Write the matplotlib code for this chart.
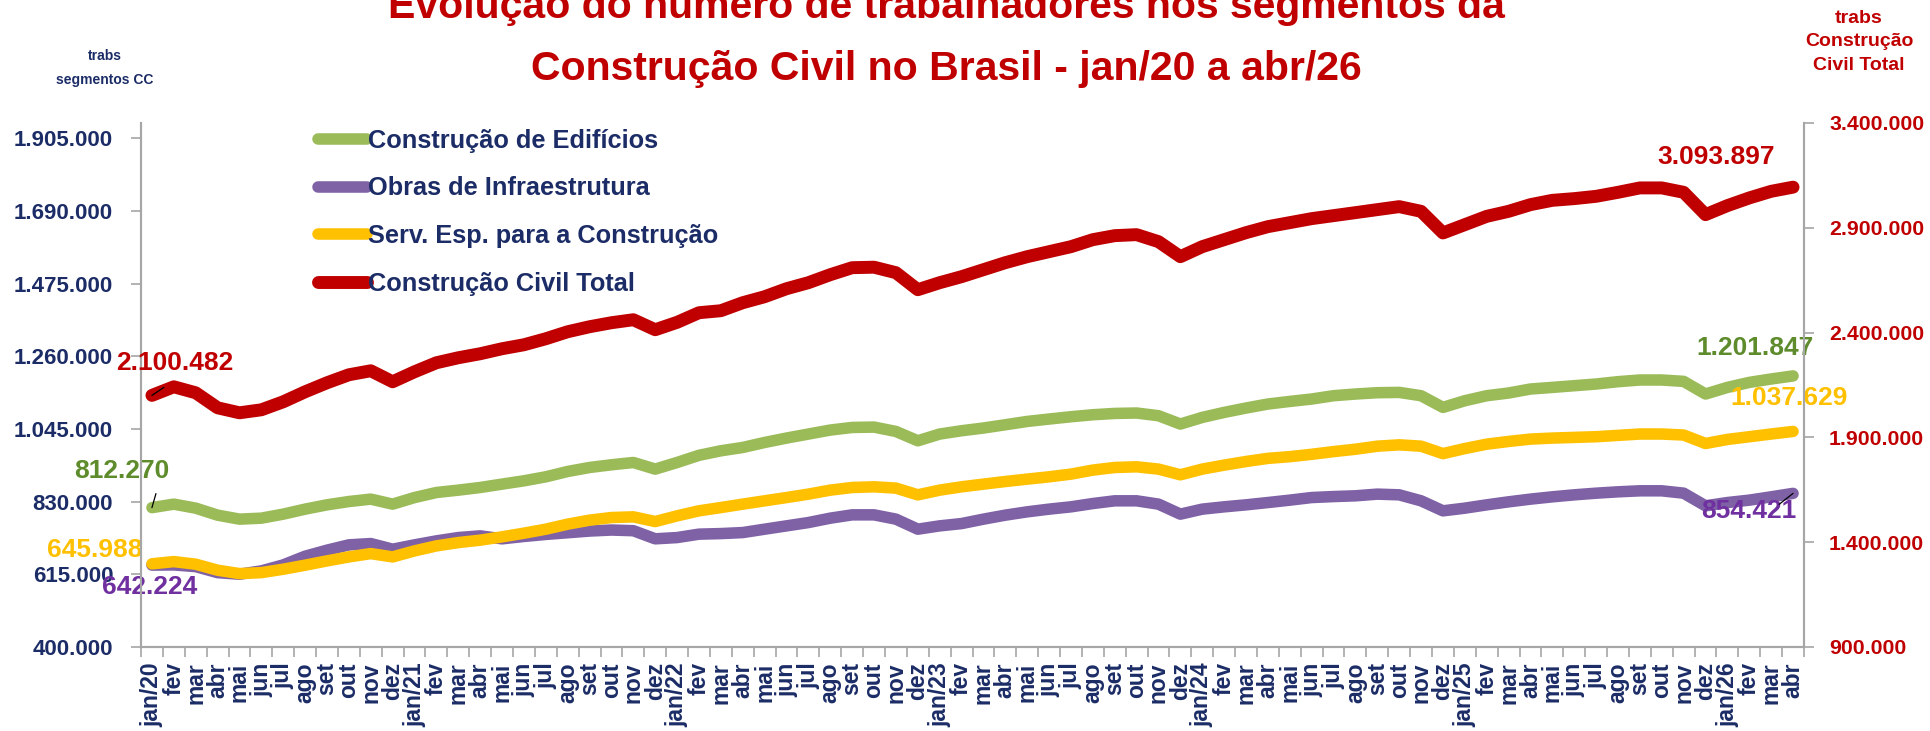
import matplotlib
matplotlib.use("Agg")
import matplotlib.pyplot as plt
from matplotlib import font_manager as fm
from matplotlib.ticker import FixedLocator, FuncFormatter

try:
    fm.findfont(fm.FontProperties(family='Liberation Sans Narrow', weight='bold'), fallback_to_default=False)
    NARROW = True
except Exception:
    NARROW = False

BASE = ['Liberation Sans', 'DejaVu Sans']
NARROW_FAM = (['Liberation Sans Narrow'] + BASE) if NARROW else BASE
K = 1.22 if NARROW else 1.0

plt.rcParams['font.family'] = BASE
plt.rcParams['font.weight'] = 'bold'

MONTHS = ['jan', 'fev', 'mar', 'abr', 'mai', 'jun', 'jul', 'ago', 'set', 'out', 'nov', 'dez']
YEARS = ['20', '21', '22', '23', '24', '25', '26']
labels = []
for y in YEARS:
    for i, m in enumerate(MONTHS):
        labels.append(f"{m}/{y}" if i == 0 else m)
labels = labels[:76]

edificios = [812270, 822600, 810700, 790000, 778200, 781100, 793000, 807800, 820500, 830300, 837400, 822600,
             842100, 857000, 864000, 871800, 881800, 891600, 903400, 919200, 931000, 939000, 945800, 926200,
             945800, 967000, 980400, 990200, 1005000, 1018000, 1029900, 1041700, 1049400, 1050500, 1037600, 1010000,
             1029900, 1039700, 1047700, 1057400, 1067200, 1074300, 1081100, 1087000, 1090900, 1092100, 1084100, 1059500,
             1079100, 1093900, 1106900, 1118700, 1126400, 1133500, 1143300, 1148300, 1152200, 1153100, 1143300, 1108700,
             1128500, 1143300, 1151300, 1163100, 1167900, 1172900, 1177900, 1184800, 1189800, 1189800, 1185700, 1148300,
             1167900, 1182700, 1192800, 1201847]

infra = [642224, 642800, 637800, 620000, 615300, 625100, 642800, 668500, 686400, 702100, 706000, 689300,
         702100, 713900, 723700, 728700, 720000, 727000, 733000, 738000, 743000, 746000, 744000, 720000,
         723700, 733800, 735500, 738500, 748500, 758300, 768100, 781100, 790900, 790900, 778200, 748500,
         758300, 765100, 778200, 790000, 799800, 807800, 814600, 824400, 832400, 832400, 822600, 793000,
         807800, 814600, 820500, 827300, 834400, 842100, 845000, 847200, 852200, 850100, 832400, 802800,
         810700, 820500, 829400, 837400, 844200, 850100, 855000, 859000, 862000, 862000, 855000, 817600,
         827300, 834400, 844200, 854421]

servicos = [645988, 652600, 644900, 627100, 617100, 620000, 630100, 642000, 654700, 666500, 676300, 666500,
            684300, 699100, 708900, 716000, 725800, 736700, 748500, 763400, 775200, 782900, 785000, 771100,
            787900, 802800, 812500, 822600, 832400, 842100, 852200, 864000, 871800, 873800, 870000, 850100,
            864000, 873800, 881800, 889500, 896600, 903400, 911400, 923300, 931000, 933000, 926200, 909400,
            926200, 938000, 948700, 958000, 963000, 970000, 978000, 985000, 994000, 998000, 994000, 972000,
            987000, 1000000, 1008000, 1015000, 1018000, 1020000, 1022000, 1026000, 1030000, 1030000, 1027000, 1002000,
            1014000, 1022000, 1030000, 1037629]

total = [2100482, 2141500, 2112900, 2041200, 2017400, 2031700, 2069900, 2117600, 2160600, 2198800, 2217900, 2165400,
         2213100, 2256100, 2280000, 2299100, 2323000, 2342000, 2370700, 2404100, 2428000, 2447100, 2461400, 2413700,
         2449000, 2494900, 2504400, 2542600, 2571200, 2609400, 2638100, 2676300, 2709700, 2712000, 2685900, 2604700,
         2638100, 2666800, 2700200, 2733600, 2762200, 2786100, 2810000, 2843400, 2862500, 2867300, 2833900, 2762200,
         2810000, 2843400, 2876800, 2905500, 2924600, 2943700, 2958000, 2972300, 2986700, 3001000, 2978600, 2875400,
         2915000, 2954700, 2978600, 3010500, 3031100, 3039200, 3050200, 3069300, 3090300, 3090300, 3069300, 2962800,
         3005800, 3042500, 3074100, 3093897]

series_names = ["Construção de Edifícios", "Obras de Infraestrutura",
                "Serv. Esp. para a Construção", "Construção Civil Total"]

left_ticks = [400000, 615000, 830000, 1045000, 1260000, 1475000, 1690000, 1905000]
right_ticks = [900000, 1400000, 1900000, 2400000, 2900000, 3400000]

NAVY = '#1B2C66'
RED = '#C00000'
C_GREEN = '#9BBB59'
C_PURPLE = '#7F61A6'
C_YELLOW = '#FFC000'
L_GREEN = '#5E8C2C'
L_PURPLE = '#7030A0'
GRAY = '#A6A6A6'


def fmt(v, pos=None):
    return f"{int(round(v)):,}".replace(',', '.')


W, H = 1930, 731
fig = plt.figure(figsize=(W / 100, H / 100), dpi=100)
ax = fig.add_axes([141 / W, 1 - 647 / H, (1804 - 141) / W, (647 - 123) / H])
ax2 = ax.twinx()

x = list(range(len(labels)))
kw = dict(solid_capstyle='round', solid_joinstyle='round')
l1, = ax.plot(x, edificios, color=C_GREEN, lw=8.3, zorder=3, **kw)
l2, = ax.plot(x, infra, color=C_PURPLE, lw=8.3, zorder=2, **kw)
l3, = ax.plot(x, servicos, color=C_YELLOW, lw=8.3, zorder=4, **kw)
l4, = ax2.plot(x, total, color=RED, lw=9.3, zorder=3, **kw)

ax.set_xlim(-0.5, len(labels) - 0.5)
ax.set_ylim(400000, 1950000)
ax2.set_ylim(900000, 3400000)

ax.yaxis.set_major_locator(FixedLocator(left_ticks))
ax.yaxis.set_major_formatter(FuncFormatter(fmt))
ax2.yaxis.set_major_locator(FixedLocator(right_ticks))
ax2.yaxis.set_major_formatter(FuncFormatter(fmt))

ax.set_xticks(x)
ax.set_xticklabels(labels, rotation=90, fontsize=16.5, color=NAVY, fontweight='bold', va='top', ha='center')
ax.set_xticks([i - 0.5 for i in range(len(labels) + 1)], minor=True)
ax.tick_params(axis='x', which='major', length=0, pad=11)
ax.tick_params(axis='x', which='minor', length=7, color=GRAY, width=1.2)
ax.tick_params(axis='y', which='major', length=7, color=GRAY, width=1.2, labelcolor=NAVY, pad=13)
ax2.tick_params(axis='y', which='major', length=7, color=GRAY, width=1.2, labelcolor=RED, pad=11)
for t in ax.get_yticklabels():
    t.set_family(NARROW_FAM); t.set_fontsize(16 * K); t.set_fontweight('bold')
for t in ax2.get_yticklabels():
    t.set_family(NARROW_FAM); t.set_fontsize(15.3 * K); t.set_fontweight('bold')

for a in (ax, ax2):
    a.spines['top'].set_visible(False)
    for s in ('left', 'right', 'bottom'):
        a.spines[s].set_color(GRAY)
        a.spines[s].set_linewidth(1.5)

# titles
fig.text(946 / W, 1 - 18 / H, "Evolução do número de trabalhadores nos segmentos da", family=NARROW_FAM,
         ha='center', va='baseline', fontsize=29.5 * K, color=RED, fontweight='bold')
fig.text(946 / W, 1 - 80 / H, "Construção Civil no Brasil - jan/20 a abr/26", family=NARROW_FAM,
         ha='center', va='baseline', fontsize=29.5 * K, color=RED, fontweight='bold')
fig.text(105 / W, 1 - 68 / H, "trabs\nsegmentos CC", ha='center', va='center', family=NARROW_FAM,
         fontsize=10 * K, color=NAVY, fontweight='bold', linespacing=1.85)
fig.text(1859 / W, 1 - 42 / H, "trabs\nConstrução\nCivil Total", ha='center', va='center', family=NARROW_FAM,
         fontsize=14 * K, color=RED, fontweight='bold', linespacing=1.5)

# legend
leg = ax.legend([l1, l2, l3, l4], series_names,
                loc='upper left', bbox_to_anchor=(315 / W, 1 - 126 / H), bbox_transform=fig.transFigure,
                frameon=False, prop=dict(family=NARROW_FAM, size=18.3 * K, weight='bold'),
                handlelength=1.6 if NARROW else 1.95, handletextpad=0.05,
                labelspacing=0.6 if NARROW else 0.94, borderpad=0.1, borderaxespad=0)
for t in leg.get_texts():
    t.set_color(NAVY)


# data labels (first and last values)
def lab(axx, i, v, color, xy_px):
    axx.annotate(fmt(v), xy=(i, v), xytext=(xy_px[0], H - xy_px[1]), textcoords='figure pixels',
                 ha='center', va='center', fontsize=19 * K, color=color, fontweight='bold',
                 family=NARROW_FAM, zorder=10)


def leader(axx, i, v, dx, dy):
    axx.annotate('', xy=(i, v), xytext=(dx, dy), textcoords='offset pixels',
                 arrowprops=dict(arrowstyle='-', color='black', lw=0.9, shrinkA=0, shrinkB=0), zorder=11)


n = len(labels) - 1
lab(ax2, 0, total[0], RED, (175, 363))
lab(ax, 0, edificios[0], L_GREEN, (122, 471))
lab(ax, 0, servicos[0], C_YELLOW, (95, 550))
lab(ax, 0, infra[0], L_PURPLE, (150, 587))
lab(ax2, n, total[n], RED, (1716, 157))
lab(ax, n, edificios[n], L_GREEN, (1755, 348))
lab(ax, n, servicos[n], C_YELLOW, (1789, 398))
lab(ax, n, infra[n], L_PURPLE, (1749, 511))
leader(ax2, 0, total[0], 12, 8)
leader(ax, 0, edificios[0], 4, 14)
leader(ax, n, infra[n], -14, -11)

fig.savefig("out.png", dpi=100)
